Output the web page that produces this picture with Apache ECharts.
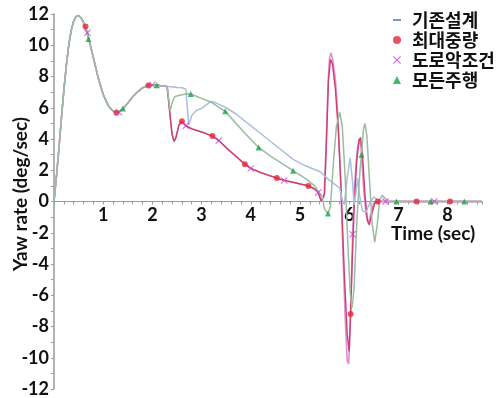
<!DOCTYPE html>
<html>
<head>
<meta charset="utf-8">
<script src="https://cdn.jsdelivr.net/npm/echarts@6/dist/echarts.min.js"></script>
<style>
  html, body { margin: 0; padding: 0; background: #fff; }
  #chart { width: 499px; height: 398px; }
</style>
</head>
<body>
<div id="chart"></div>
<script>
    // shared start of all four runs (time sec, yaw rate deg/sec)
    var commonPart = [[0, 0], [0.05, 1.6], [0.1, 3.4], [0.15, 5.3], [0.2, 7.1], [0.25, 8.7], [0.3, 10.0], [0.35, 10.95],
        [0.4, 11.55], [0.45, 11.85], [0.5, 11.9], [0.55, 11.75], [0.6, 11.45], [0.65, 11.05], [0.7, 10.5], [0.8, 9.2],
        [0.9, 7.9], [1.0, 6.85], [1.1, 6.15], [1.2, 5.78], [1.3, 5.7], [1.4, 5.92], [1.5, 6.3], [1.6, 6.7], [1.7, 7.02],
        [1.8, 7.27], [1.9, 7.42], [2.0, 7.46], [2.1, 7.44], [2.2, 7.4], [2.3, 7.36]];

    var baseTail = [[2.4, 7.35], [2.5, 7.3], [2.6, 7.28], [2.68, 7.2], [2.71, 6.0], [2.74, 4.9], [2.8, 5.5], [2.9, 5.85],
        [3.0, 5.95], [3.1, 6.2], [3.2, 6.4], [3.3, 6.3], [3.5, 6.0], [3.7, 5.6], [3.9, 5.1], [4.2, 4.35], [4.5, 3.6],
        [4.86, 2.7], [5.1, 2.3], [5.41, 1.9], [5.6, 1.35], [5.81, 0.85], [5.86, 0.1], [5.9, -0.2], [5.96, 1.5],
        [6.02, 2.8], [6.07, 1.2], [6.1, -0.2], [6.14, 0.6], [6.17, 1.5], [6.21, 0.4], [6.27, -0.6], [6.34, -0.7],
        [6.42, -0.1], [6.5, 0.3], [6.58, 0.1], [6.7, 0], [8.7, 0]];

    var heavyTail = [[2.32, 7.3], [2.36, 5.5], [2.4, 4.3], [2.44, 3.85], [2.48, 4.1], [2.54, 4.9], [2.6, 5.13],
        [2.68, 4.85], [2.8, 4.65], [3.0, 4.45], [3.22, 4.19], [3.35, 3.9], [3.55, 3.3], [3.75, 2.75], [3.88, 2.39],
        [4.0, 2.12], [4.2, 1.85], [4.53, 1.5], [4.68, 1.35], [4.9, 1.2], [5.17, 1.0], [5.3, 0.8], [5.37, 0.58],
        [5.43, 0.05], [5.5, 0.5], [5.54, 4.0], [5.58, 7.8], [5.62, 9.1], [5.66, 8.8], [5.72, 7.2], [5.78, 4.5],
        [5.84, 0.5], [5.9, -4.5], [5.96, -8.5], [6.0, -9.6], [6.03, -7.2], [6.06, -4.0], [6.1, -0.5], [6.15, 2.5],
        [6.2, 3.9], [6.23, 4.1], [6.27, 3.0], [6.32, 0.5], [6.37, -1.2], [6.41, -1.5], [6.46, -0.8], [6.52, -0.1],
        [6.58, 0], [8.7, 0]];

    var roughTail = [[2.32, 7.3], [2.36, 5.5], [2.4, 4.3], [2.44, 3.85], [2.48, 4.1], [2.54, 4.9], [2.6, 5.13],
        [2.68, 4.85], [2.8, 4.65], [3.0, 4.45], [3.22, 4.19], [3.35, 3.9], [3.55, 3.3], [3.75, 2.75], [3.88, 2.39],
        [4.0, 2.12], [4.2, 1.85], [4.53, 1.5], [4.68, 1.35], [4.9, 1.2], [5.17, 1.0], [5.3, 0.8], [5.37, 0.58],
        [5.43, 0.05], [5.49, 0.3], [5.53, 3.5], [5.57, 7.5], [5.6, 9.2], [5.63, 9.5], [5.67, 9.0], [5.72, 7.8],
        [5.77, 5.5], [5.82, 2.0], [5.87, -3.0], [5.92, -7.5], [5.96, -10.2], [5.99, -10.4], [6.02, -8.0],
        [6.05, -4.5], [6.07, -2.1], [6.11, 1.0], [6.16, 3.2], [6.2, 4.0], [6.24, 3.5], [6.29, 1.0], [6.34, -0.8],
        [6.39, -1.4], [6.44, -0.8], [6.5, -0.1], [6.58, 0], [8.7, 0]];

    var allTail = [[2.33, 7.3], [2.36, 5.8], [2.4, 6.3], [2.45, 6.7], [2.55, 6.8], [2.7, 6.9], [2.78, 6.88], [3.0, 6.6],
        [3.2, 6.35], [3.48, 5.77], [3.7, 5.0], [3.9, 4.3], [4.16, 3.46], [4.4, 2.9], [4.6, 2.5], [4.86, 1.97],
        [5.1, 1.5], [5.3, 1.0], [5.45, 0.3], [5.5, -0.5], [5.57, -0.77], [5.62, -0.3], [5.68, 2.5], [5.74, 4.8],
        [5.81, 5.7], [5.86, 4.8], [5.92, 1.5], [5.97, -2.5], [6.02, -5.8], [6.06, -6.8], [6.1, -5.5], [6.16, -1.0],
        [6.22, 2.0], [6.25, 3.0], [6.29, 4.6], [6.32, 5.0], [6.36, 4.2], [6.42, 1.0], [6.47, -1.5], [6.52, -2.6],
        [6.57, -1.5], [6.62, 0.1], [6.67, 0.4], [6.73, 0.2], [6.8, 0], [8.7, 0]];

    // sparse markers as plotted
    var heavyMarks = [[0.64, 11.2], [1.27, 5.68], [1.92, 7.43], [2.6, 5.13], [3.22, 4.19], [3.88, 2.39], [4.53, 1.5],
        [5.17, 1.0], [6.03, -7.2], [6.58, 0], [7.37, 0], [8.05, 0]];
    var roughMarks = [[0.68, 10.8], [1.32, 5.72], [2.0, 7.45], [2.68, 4.85], [3.35, 3.9], [4.0, 2.12], [4.68, 1.35],
        [5.37, 0.58], [6.07, -2.1], [6.74, 0], [7.73, 0]];
    var allMarks = [[0.70, 10.4], [1.40, 5.95], [2.09, 7.44], [2.78, 6.88], [3.48, 5.77], [4.16, 3.46], [4.86, 1.97],
        [5.57, -0.77], [6.25, 3.0], [6.96, 0], [7.66, 0], [8.34, 0]];

    var names = ['기존설계', '최대중량', '도로악조건', '모든주행'];

    var crossPath = 'path://M0,1L1,0L5,4L9,0L10,1L6,5L10,9L9,10L5,6L1,10L0,9L4,5Z';
    var dashPath = 'path://M0,0H10V2.4H0Z';

    var gridTop = 14, gridBottom = 9, yMin = -12, yMax = 12;
    // move the time axis (line, ticks, labels) up to yaw rate = 0
    var plotHeight = 398 - gridTop - gridBottom;
    var zeroOffset = -plotHeight * (0 - yMin) / (yMax - yMin);

    var chart = echarts.init(document.getElementById('chart'), null, { renderer: 'canvas' });

    var option = {
        animation: false,
        grid: { left: 54, right: 17, top: gridTop, bottom: gridBottom, containLabel: false, outerBoundsMode: 'none' },
        legend: {
            orient: 'vertical',
            left: 388,
            top: 6,
            itemWidth: 8,
            itemHeight: 8,
            itemGap: 2,
            textStyle: {
                fontFamily: 'Noto Sans CJK KR', fontWeight: 'bold', fontSize: 18, color: '#111',
                padding: [0, 0, 0, 6]
            },
            data: [
                { name: names[0], icon: dashPath, itemStyle: { color: '#6f94c8' } },
                { name: names[1], icon: 'circle' },
                { name: names[2], icon: crossPath },
                { name: names[3], icon: 'triangle' }
            ]
        },
        graphic: [
            {
                type: 'text',
                left: 391,
                top: 224,
                style: { text: 'Time (sec)', font: 'bold 19px Lato', fill: '#111' }
            },
            {
                type: 'text',
                x: 21,
                y: 194,
                rotation: Math.PI / 2,
                style: { text: 'Yaw rate (deg/sec)', font: 'bold 19px Lato', fill: '#111', align: 'center', verticalAlign: 'middle' }
            }
        ],
        xAxis: {
            type: 'value',
            min: 0,
            max: 8.7,
            interval: 1,
            position: 'bottom',
            offset: zeroOffset,
            splitLine: { show: false },
            axisLine: { onZero: false, lineStyle: { color: '#9a9a9a', width: 1 } },
            axisTick: { show: true, length: 3, lineStyle: { color: '#9a9a9a' } },
            minorTick: { show: true, splitNumber: 5, length: 3, lineStyle: { color: '#9a9a9a' } },
            axisLabel: {
                margin: 5,
                fontFamily: 'Lato',
                fontWeight: 'bold',
                fontSize: 18,
                color: '#111',
                formatter: function (v) {
                    return (v > 0 && Math.abs(v - Math.round(v)) < 1e-6) ? String(v) : '';
                }
            }
        },
        yAxis: {
            type: 'value',
            min: yMin,
            max: yMax,
            interval: 2,
            splitLine: { show: false },
            axisLine: { show: true, lineStyle: { color: '#9a9a9a', width: 1.5 } },
            axisTick: { show: true, length: 3, lineStyle: { color: '#9a9a9a' } },
            minorTick: { show: true, splitNumber: 2, length: 3, lineStyle: { color: '#9a9a9a' } },
            axisLabel: { margin: 5, fontFamily: 'Lato', fontWeight: 'bold', fontSize: 18, color: '#111' }
        },
        series: [
            {
                name: '도로악조건 선',
                type: 'line',
                symbol: 'none',
                data: commonPart.concat(roughTail),
                lineStyle: { color: '#e08cd6', width: 1.6 },
                z: 2
            },
            {
                name: '최대중량 선',
                type: 'line',
                symbol: 'none',
                data: commonPart.concat(heavyTail),
                lineStyle: { color: '#cc3f6e', width: 1.4 },
                z: 3
            },
            {
                name: names[0],
                type: 'line',
                symbol: 'none',
                data: commonPart.concat(baseTail),
                itemStyle: { color: '#6f94c8' },
                lineStyle: { color: '#a9c0dc', width: 1.5 },
                z: 4
            },
            {
                name: '모든주행 선',
                type: 'line',
                symbol: 'none',
                data: commonPart.concat(allTail),
                lineStyle: { color: '#9dbb9f', width: 1.5 },
                z: 5
            },
            {
                name: names[1],
                type: 'scatter',
                symbol: 'circle',
                symbolSize: 6,
                data: heavyMarks,
                itemStyle: { color: '#e3283a' },
                z: 6
            },
            {
                name: names[2],
                type: 'scatter',
                symbol: crossPath,
                symbolSize: 7,
                data: roughMarks,
                itemStyle: { color: '#c93fd0' },
                z: 7
            },
            {
                name: names[3],
                type: 'scatter',
                symbol: 'triangle',
                symbolSize: 6,
                data: allMarks,
                itemStyle: { color: '#12a64a' },
                z: 8
            }
        ]
    };

    chart.setOption(option);
</script>
</body>
</html>
